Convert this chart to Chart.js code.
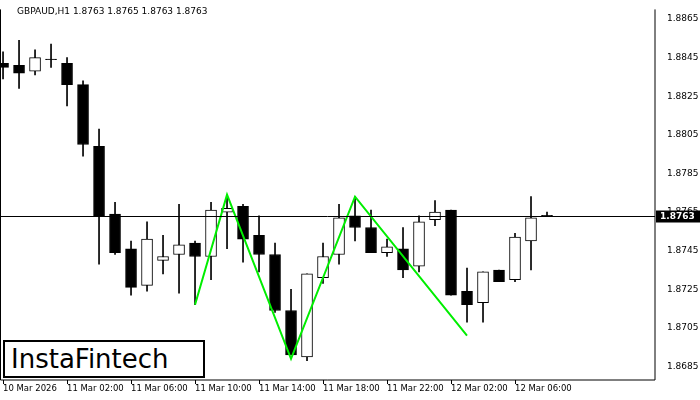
<!DOCTYPE html>
<html><head><meta charset="utf-8">
<script src="https://cdn.jsdelivr.net/npm/chart.js@4"></script>
<style>html,body{margin:0;padding:0;background:#fff}#w{position:relative;width:700px;height:400px}
#t{position:absolute;left:17px;top:6px;font:9px 'DejaVu Sans';color:#000}
#logo{position:absolute;left:3px;top:340px;width:192px;height:34px;border:2px solid #000;background:#fff;font:26px 'DejaVu Sans';line-height:34px;padding-left:6px;box-sizing:content-box}</style>
</head><body><div id="w"><canvas id="c" width="700" height="400"></canvas>
<div id="t">GBPAUD,H1 1.8763 1.8765 1.8763 1.8763</div>
<div id="logo">InstaFintech</div></div>
<script>
const opens  =[1.8842,1.8841,1.8838,1.8844,1.8842,1.8831,1.8799,1.8764,1.8746,1.8727,1.8740,1.8743,1.8749,1.8742,1.8765,1.8768,1.8753,1.8743,1.8714,1.8690,1.8731,1.8743,1.8763,1.8757,1.8744,1.8746,1.8737,1.8761,1.8766,1.8724,1.8718,1.8735,1.8730,1.8750,1.8763];
const highs  =[1.8848,1.8854,1.8849,1.8852,1.8845,1.8833,1.8808,1.8770,1.8750,1.8760,1.8753,1.8769,1.8750,1.8770,1.8773,1.8769,1.8763,1.8749,1.8725,1.8733,1.8749,1.8769,1.8773,1.8766,1.8751,1.8757,1.8763,1.8771,1.8766,1.8736,1.8734,1.8735,1.8754,1.8773,1.8765];
const lows   =[1.8834,1.8829,1.8836,1.8840,1.8820,1.8794,1.8738,1.8743,1.8722,1.8724,1.8733,1.8723,1.8717,1.8730,1.8746,1.8739,1.8734,1.8713,1.8691,1.8688,1.8728,1.8738,1.8750,1.8744,1.8742,1.8731,1.8734,1.8758,1.8722,1.8708,1.8708,1.8729,1.8729,1.8735,1.8763];
const closes =[1.8840,1.8837,1.8845,1.8844,1.8831,1.8800,1.8763,1.8744,1.8726,1.8751,1.8742,1.8748,1.8742,1.8766,1.8767,1.8751,1.8743,1.8714,1.8691,1.8733,1.8742,1.8762,1.8757,1.8744,1.8747,1.8735,1.8760,1.8765,1.8722,1.8717,1.8734,1.8729,1.8752,1.8762,1.8763];
const patternIdx=[12,14,18,22,29];
const patternVal=[1.8717,1.8774,1.8689,1.8773,1.8701];
const timeLabels=["10 Mar 2026","11 Mar 02:00","11 Mar 06:00","11 Mar 10:00","11 Mar 14:00","11 Mar 18:00","11 Mar 22:00","12 Mar 02:00","12 Mar 06:00"];
const priceTicks=[1.8685,1.8705,1.8725,1.8745,1.8765,1.8785,1.8805,1.8825,1.8845,1.8865];
const lastPrice=1.8763;

const wicks=highs.map((h,i)=>({x:i,y:[lows[i],h]}));
const bodies=opens.map((o,i)=>{let a=Math.min(o,closes[i]),b=Math.max(o,closes[i]);if(b-a<0.00003)b=a+0.00003;return {x:i,y:[a,b]};});
const fills=opens.map((o,i)=>closes[i]>o?'#fff':'#000');

const overlay={id:'ov',afterDatasetsDraw(ch){const c=ch.ctx,y=ch.scales.y,a=ch.chartArea;const py=Math.round(y.getPixelForValue(lastPrice))+0.5;
c.save();c.strokeStyle='#000';c.lineWidth=1;c.beginPath();c.moveTo(a.left,py);c.lineTo(a.right,py);c.stroke();
c.fillStyle='#000';c.fillRect(a.right+1,py-6,44,12);c.fillStyle='#fff';c.font='bold 9px "DejaVu Sans"';c.textBaseline='middle';c.fillText(lastPrice.toFixed(4),a.right+5,py);
c.strokeStyle='#000';c.beginPath();c.moveTo(a.left+0.5,a.top);c.lineTo(a.left+0.5,a.bottom);c.lineTo(a.right,a.bottom);c.lineTo(a.right,a.top);c.stroke();
c.fillStyle='#000';c.font='8.5px "DejaVu Sans"';c.textBaseline='top';
timeLabels.forEach((l,i)=>{const px=Math.round(ch.scales.x.getPixelForValue(i*4));c.fillRect(px,a.bottom,1,4);c.fillText(l,px,a.bottom+5);});
c.restore();}};

new Chart(document.getElementById('c'),{
 data:{datasets:[
  {type:'line',data:patternIdx.map((x,i)=>({x,y:patternVal[i]})),borderColor:'#00ee00',borderWidth:2,pointRadius:0,order:0,tension:0},
  {type:'bar',data:bodies,backgroundColor:fills,borderColor:'#000',borderWidth:1,borderSkipped:false,barThickness:11,order:1,grouped:false},
  {type:'bar',data:wicks,backgroundColor:'#000',borderWidth:0,barThickness:1,order:2,grouped:false}
 ]},
 plugins:[overlay],
 options:{responsive:false,animation:false,layout:{padding:{top:5,left:0,right:0,bottom:0}},
  plugins:{legend:{display:false},tooltip:{enabled:false}},
  scales:{
   x:{type:'linear',offset:false,min:-0.19,max:40.75,grid:{display:false},border:{display:false},
     afterFit(s){s.height=20;},
     ticks:{display:false}},
   y:{position:'right',min:1.8678,max:1.8870,grid:{display:false},border:{display:false},
     afterBuildTicks(s){s.ticks=priceTicks.map(v=>({value:v}));},
     afterFit(s){s.width=45;},
     ticks:{color:'#000',padding:4,font:{family:'DejaVu Sans',size:9},callback:v=>v.toFixed(4)}}
  }}
});
</script></body></html>
